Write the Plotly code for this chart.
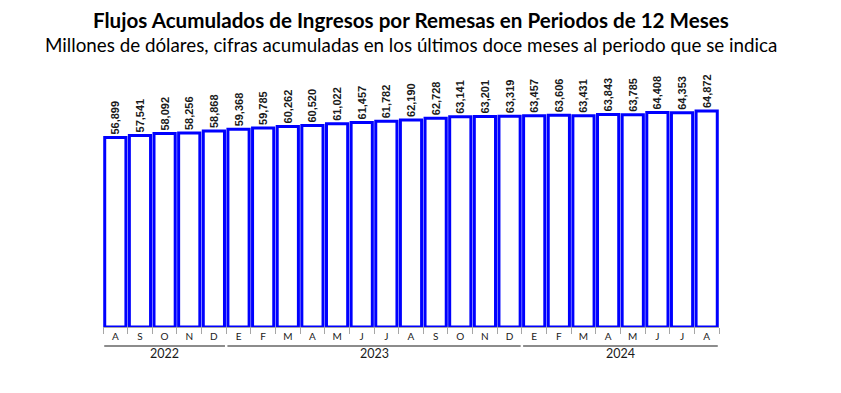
import plotly.graph_objects as go

months = ["A", "S", "O", "N", "D", "E", "F", "M", "A", "M", "J", "J", "A",
          "S", "O", "N", "D", "E", "F", "M", "A", "M", "J", "J", "A"]
years = [2022] * 5 + [2023] * 12 + [2024] * 8
values = [56899, 57541, 58092, 58256, 58868, 59368, 59785, 60262, 60520, 61022,
          61457, 61782, 62190, 62728, 63141, 63201, 63319, 63457, 63606, 63431,
          63843, 63785, 64408, 64353, 64872]

title = "Flujos Acumulados de Ingresos por Remesas en Periodos de 12 Meses"
subtitle = "Millones de dólares, cifras acumuladas en los últimos doce meses al periodo que se indica"

x = list(range(len(values)))
labels = [f"{v:,}" for v in values]

fig = go.Figure()
fig.add_trace(go.Bar(
    x=x, y=values, text=labels, textposition="outside", textangle=-90,
    constraintext="none", cliponaxis=False,
    textfont=dict(family="Liberation Sans", size=11, color="#1a1a1a", weight="bold"),
    marker=dict(color="white", line=dict(color="#0000FF", width=3)),
    width=0.86,
))

shapes = []
annotations = []
year_list = sorted(set(years))
for yr in year_list:
    idx = [i for i, y in enumerate(years) if y == yr]
    x0, x1 = idx[0] - 0.45, idx[-1] + 0.45
    shapes.append(dict(type="line", xref="x", yref="paper", x0=x0, x1=x1,
                       y0=-0.077, y1=-0.077, line=dict(color="#8c8c8c", width=2)))
    annotations.append(dict(xref="x", yref="paper", x=(idx[0] + idx[-1]) / 2, y=-0.109,
                            text=str(yr), showarrow=False, yanchor="middle",
                            font=dict(family="Lato", size=12.5, color="#1a1a1a")))

annotations.append(dict(xref="paper", yref="paper", x=0.5, y=1.0, yshift=60,
                        text=f"<b>{title}</b>", showarrow=False, yanchor="middle",
                        font=dict(family="Lato", size=20.6, color="black")))
annotations.append(dict(xref="paper", yref="paper", x=0.5, y=1.0, yshift=36,
                        text=subtitle, showarrow=False, yanchor="middle",
                        font=dict(family="Lato", size=18.8, color="black")))

fig.update_layout(
    width=841, height=393,
    margin=dict(l=95, r=130, t=72, b=74),
    paper_bgcolor="white", plot_bgcolor="white",
    showlegend=False,
    bargap=0.14,
    shapes=shapes, annotations=annotations,
    xaxis=dict(
        range=[-0.5, len(values) - 0.5],
        tickmode="array", tickvals=x, ticktext=months, ticks="",
        tickfont=dict(family="Lato", size=10, color="#1a1a1a"),
        showline=True, linecolor="#a6a6a6", linewidth=1,
        showgrid=False, zeroline=False,
        minor=dict(tickmode="array", tickvals=[i - 0.5 for i in range(len(values) + 1)],
                   ticks="outside", ticklen=6, tickcolor="#a6a6a6", tickwidth=1, showgrid=False),
    ),
    yaxis=dict(range=[0, 74200], visible=False, showgrid=False, zeroline=False),
)

fig.write_html("out.html")
